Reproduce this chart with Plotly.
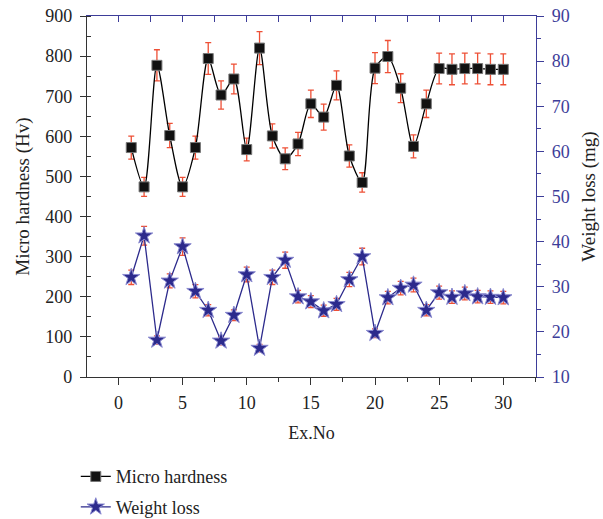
import plotly.graph_objects as go

ex_no = list(range(1, 31))
micro_hardness = [572, 474, 777, 602, 474, 572, 794, 703, 743, 567,
                  820, 601, 544, 581, 681, 648, 727, 551, 485, 770,
                  799, 720, 575, 681, 769, 767, 769, 769, 767, 767]
weight_loss = [32.1, 41.3, 18.2, 31.3, 38.9, 29.0, 24.8, 18.0, 23.7, 32.7,
               16.4, 32.1, 35.9, 27.8, 26.7, 24.7, 26.1, 31.6, 36.7, 19.7,
               27.6, 29.7, 30.4, 24.8, 28.7, 27.7, 28.5, 27.8, 27.7, 27.6]
error_percent = 5

x_ticks = [0, 5, 10, 15, 20, 25, 30]
left_ticks = list(range(0, 901, 100))
right_ticks = list(range(10, 91, 10))

BLUE = "#3d3d99"
STAR = "#2c2a8c"
ERR = "#ee5036"
FONT = "Liberation Serif"
TXT = "#222222"

fig = go.Figure()
fig.add_trace(go.Scatter(
    x=ex_no, y=micro_hardness, name="Micro hardness", mode="lines+markers",
    legendgroup="a",
    line=dict(color="black", width=1.3, shape="spline", smoothing=0.8),
    marker=dict(symbol="square", size=10, color="#111111", line=dict(color="#777777", width=1)),
    error_y=dict(type="percent", value=error_percent, color=ERR, thickness=1.3, width=3),
    xaxis="x", yaxis="y",
))
fig.add_trace(go.Scatter(
    x=ex_no, y=weight_loss, name="Weight loss", mode="lines+markers",
    legendgroup="b",
    line=dict(color=STAR, width=1.3),
    marker=dict(symbol="star", size=13, color=STAR, line=dict(color="#8a8ad0", width=1)),
    error_y=dict(type="percent", value=error_percent, color=ERR, thickness=1.3, width=3),
    xaxis="x2", yaxis="y2",
))

xr = [-2.45, 32.55]
fig.update_layout(
    width=603, height=519,
    margin=dict(l=87, r=67, t=16, b=142, autoexpand=False),
    paper_bgcolor="white", plot_bgcolor="white",
    font=dict(family=FONT, size=18, color=TXT),
    showlegend=True,
    legend=dict(x=-0.025, y=-0.225, xanchor="left", yanchor="top", traceorder="grouped",
                bgcolor="rgba(0,0,0,0)", font=dict(size=18, family=FONT, color=TXT),
                itemwidth=30, tracegroupgap=4),
    xaxis=dict(range=xr, tickvals=x_ticks, ticktext=[str(t) for t in x_ticks], automargin=False,
               showgrid=False, zeroline=False, showline=True, linecolor="#333333", linewidth=1.3,
               ticks="outside", ticklen=7, tickcolor="#333333", tickwidth=1.2, ticklabelstandoff=2,
               minor=dict(dtick=2.5, tick0=0, ticks="outside", ticklen=4, tickcolor="#333333", tickwidth=1.2, showgrid=False),
               title=dict(text="Ex.No", font=dict(size=18, family=FONT, color=TXT), standoff=14),
               tickfont=dict(size=18, family=FONT, color=TXT)),
    xaxis2=dict(range=xr, overlaying="x", side="top", showticklabels=False, automargin=False,
                showgrid=False, zeroline=False, showline=True, linecolor=BLUE, linewidth=1.3,
                ticks="inside", tickvals=[i * 2.5 for i in range(0, 14)], ticklen=6,
                tickcolor=BLUE, tickwidth=1.2),
    yaxis=dict(range=[0, 900], tickvals=left_ticks, showgrid=False, zeroline=False, automargin=False,
               showline=True, linecolor="#333333", linewidth=1.3,
               ticks="outside", ticklen=6, tickcolor="#333333", tickwidth=1.2, ticklabelstandoff=4,
               minor=dict(dtick=50, tick0=0, ticks="inside", ticklen=4, tickcolor="#333333", tickwidth=1.2, showgrid=False),
               title=dict(text="Micro hardness (Hv)", font=dict(size=19, family=FONT, color=TXT), standoff=10),
               tickfont=dict(size=18, family=FONT, color=TXT)),
    yaxis2=dict(range=[10, 90], tickvals=right_ticks, overlaying="y", side="right", automargin=False,
                showgrid=False, zeroline=False, showline=True, linecolor=BLUE, linewidth=1.3,
                ticks="outside", ticklen=7, tickcolor=BLUE, tickwidth=1.2, ticklabelstandoff=4,
                minor=dict(dtick=5, tick0=10, ticks="outside", ticklen=4, tickcolor=BLUE, tickwidth=1.2, showgrid=False),
                title=dict(text="Weight loss (mg)", font=dict(size=19, family=FONT, color=TXT), standoff=12),
                tickfont=dict(size=18, family=FONT, color=BLUE)),
)

fig.write_html("out.html", config={"displayModeBar": False},
               post_script="document.body.style.margin='0px';")
